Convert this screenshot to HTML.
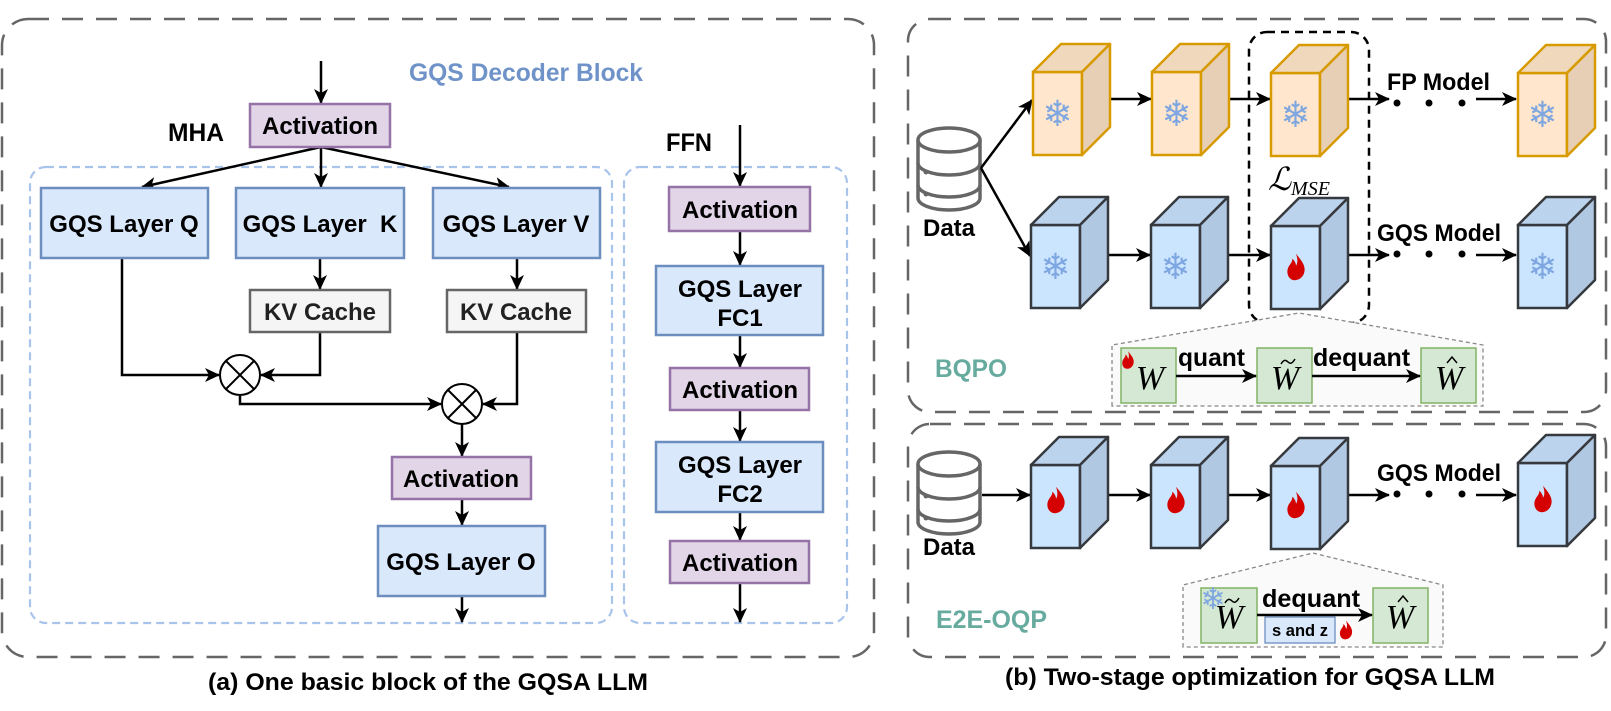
<!DOCTYPE html>
<html><head><meta charset="utf-8"><style>
html,body{margin:0;padding:0;background:#fff;}
svg{display:block;}
text{font-family:"Liberation Sans",Arial,sans-serif;font-weight:bold;}
.s{font-family:"Liberation Serif","DejaVu Serif",serif;font-style:italic;font-weight:normal;}
</style></head><body>
<svg width="1611" height="711" viewBox="0 0 1611 711" xmlns="http://www.w3.org/2000/svg">
<defs>
<marker id="a" markerWidth="16" markerHeight="14" refX="14" refY="7" orient="auto" markerUnits="userSpaceOnUse">
<path d="M0,0 L15,7 L0,14 L4,7 Z" fill="#000"/></marker>
<g id="fl"><path d="M0,-11 C5,-5 8,-1 7,4 C6,9 2,11 -1,11 C-5,11 -8,7 -7,2 C-6,-2 -3,-3 -3,-7 C-1,-5 0,-3 0,-1 C2,-4 1,-8 0,-11 Z" fill="#d50000"/></g>
<g id="sf"><text x="24.5" y="54" text-anchor="middle" font-size="36" fill="#7ea6e0" style="font-family:'DejaVu Sans',sans-serif;font-weight:normal">❄</text></g>
<g id="oc">
<rect x="0" y="0" width="49" height="83" fill="#ffe6cc" stroke="#d79b00" stroke-width="2.5"/>
<polygon points="0,0 28,-28 77,-28 49,0" fill="#f0d8bd" stroke="#d79b00" stroke-width="2.5" stroke-linejoin="round"/>
<polygon points="49,0 77,-28 77,55 49,83" fill="#e6cfb5" stroke="#d79b00" stroke-width="2.5" stroke-linejoin="round"/>
<use href="#sf"/>
</g>
<g id="bc">
<rect x="0" y="0" width="49" height="83" fill="#cce5ff" stroke="#36393d" stroke-width="2.5"/>
<polygon points="0,0 28,-28 77,-28 49,0" fill="#bcd3ed" stroke="#36393d" stroke-width="2.5" stroke-linejoin="round"/>
<polygon points="49,0 77,-28 77,55 49,83" fill="#b1c8e3" stroke="#36393d" stroke-width="2.5" stroke-linejoin="round"/>
</g>
<g id="db" fill="#fff" stroke="#666" stroke-width="3.5">
<path d="M0,12 L0,70 A31,12 0 0 0 62,70 L62,12"/>
<path d="M0,35 A31,12 0 0 0 62,35 M0,57 A31,12 0 0 0 62,57" fill="none"/>
<ellipse cx="31" cy="12" rx="31" ry="12"/>
<circle cx="8" cy="44" r="2.5" fill="#666" stroke="none"/><circle cx="8" cy="66" r="2.5" fill="#666" stroke="none"/>
</g>
<path id="tl" d="M-7,3 C-4,-2 -2,-1 0,1 C2,3 4,3 7,-2" fill="none" stroke="#000" stroke-width="1.5"/>
<path id="ht" d="M-5,3 L0,-3 L5,3" fill="none" stroke="#000" stroke-width="1.5"/>
</defs>

<g fill="none" stroke="#666" stroke-width="2.5" stroke-dasharray="21 13">
<rect x="2" y="19" width="872" height="638" rx="26"/>
<rect x="908" y="19" width="698" height="393" rx="22"/>
<rect x="908" y="424" width="698" height="233" rx="22"/>
</g>
<g fill="none" stroke="#a9c4eb" stroke-width="2.2" stroke-dasharray="8 5">
<rect x="30" y="167" width="582" height="456" rx="16"/>
<rect x="624" y="167" width="223" height="456" rx="16"/>
</g>

<text x="409" y="81" font-size="25" fill="#6f93c8" textLength="234" lengthAdjust="spacingAndGlyphs">GQS Decoder Block</text>
<text x="168" y="141" font-size="25" textLength="56" lengthAdjust="spacingAndGlyphs">MHA</text>
<text x="666" y="151" font-size="25" textLength="46" lengthAdjust="spacingAndGlyphs">FFN</text>

<g stroke="#000" stroke-width="2.5" fill="none" marker-end="url(#a)">
<line x1="321" y1="61" x2="321" y2="103"/>
<line x1="321" y1="147" x2="142" y2="187"/>
<line x1="321" y1="147" x2="321" y2="187"/>
<line x1="321" y1="147" x2="509" y2="187"/>
<line x1="320" y1="258" x2="320" y2="289"/>
<line x1="517" y1="258" x2="517" y2="289"/>
<polyline points="122,258 122,375 219,375"/>
<polyline points="320,332 320,375 261,375"/>
<polyline points="240,396 240,404 441,404"/>
<polyline points="517,332 517,404 483,404"/>
<line x1="462" y1="424" x2="462" y2="456"/>
<line x1="462" y1="499" x2="462" y2="525"/>
<line x1="462" y1="596" x2="462" y2="622"/>
<line x1="740" y1="125" x2="740" y2="186"/>
<line x1="740" y1="231" x2="740" y2="265"/>
<line x1="740" y1="335" x2="740" y2="367"/>
<line x1="740" y1="410" x2="740" y2="441"/>
<line x1="740" y1="512" x2="740" y2="540"/>
<line x1="740" y1="583" x2="740" y2="622"/>
</g>
<g fill="#fff" stroke="#000" stroke-width="2">
<circle cx="240" cy="375" r="20"/><circle cx="462" cy="404" r="20"/>
</g>
<g stroke="#000" stroke-width="2">
<path d="M226,361 L254,389 M254,361 L226,389"/>
<path d="M448,390 L476,418 M476,390 L448,418"/>
</g>

<g stroke-width="2.5">
<rect x="250" y="104" width="140" height="43" fill="#e1d5e7" stroke="#9673a6"/>
<rect x="41" y="188" width="167" height="70" fill="#dae8fc" stroke="#6c8ebf"/>
<rect x="236" y="188" width="168" height="70" fill="#dae8fc" stroke="#6c8ebf"/>
<rect x="433" y="188" width="167" height="70" fill="#dae8fc" stroke="#6c8ebf"/>
<rect x="250" y="290" width="140" height="42" fill="#f5f5f5" stroke="#666"/>
<rect x="447" y="290" width="139" height="42" fill="#f5f5f5" stroke="#666"/>
<rect x="392" y="457" width="139" height="42" fill="#e1d5e7" stroke="#9673a6"/>
<rect x="378" y="526" width="167" height="70" fill="#dae8fc" stroke="#6c8ebf"/>
<rect x="669" y="187" width="141" height="44" fill="#e1d5e7" stroke="#9673a6"/>
<rect x="656" y="266" width="167" height="69" fill="#dae8fc" stroke="#6c8ebf"/>
<rect x="670" y="368" width="139" height="42" fill="#e1d5e7" stroke="#9673a6"/>
<rect x="656" y="442" width="167" height="70" fill="#dae8fc" stroke="#6c8ebf"/>
<rect x="670" y="541" width="139" height="42" fill="#e1d5e7" stroke="#9673a6"/>
</g>
<g font-size="24" text-anchor="middle">
<text x="320" y="134">Activation</text>
<text x="124" y="232">GQS Layer Q</text>
<text x="320" y="232" xml:space="preserve">GQS Layer  K</text>
<text x="516" y="232">GQS Layer V</text>
<text x="320" y="320" fill="#222">KV Cache</text>
<text x="516" y="320" fill="#222">KV Cache</text>
<text x="461" y="487">Activation</text>
<text x="461" y="570">GQS Layer O</text>
<text x="740" y="218">Activation</text>
<text x="740" y="297">GQS Layer</text>
<text x="740" y="326">FC1</text>
<text x="740" y="398">Activation</text>
<text x="740" y="473">GQS Layer</text>
<text x="740" y="502">FC2</text>
<text x="740" y="571">Activation</text>
</g>
<text x="208" y="690" font-size="24" textLength="440" lengthAdjust="spacingAndGlyphs">(a) One basic block of the GQSA LLM</text>

<use href="#db" x="918" y="128"/>
<text x="949" y="236" font-size="24" text-anchor="middle">Data</text>
<g stroke="#000" stroke-width="2.5" fill="none" marker-end="url(#a)">
<line x1="981" y1="168" x2="1032" y2="100"/>
<line x1="981" y1="168" x2="1030" y2="256"/>
<line x1="1110" y1="99" x2="1151" y2="99"/>
<line x1="1229" y1="99" x2="1270" y2="99"/>
<line x1="1348" y1="99" x2="1389" y2="99"/>
<line x1="1476" y1="99" x2="1516" y2="99"/>
<line x1="1108" y1="255" x2="1150" y2="255"/>
<line x1="1228" y1="255" x2="1270" y2="255"/>
<line x1="1348" y1="255" x2="1389" y2="255"/>
<line x1="1476" y1="255" x2="1516" y2="255"/>
<line x1="982" y1="495" x2="1030" y2="495"/>
<line x1="1108" y1="495" x2="1150" y2="495"/>
<line x1="1228" y1="495" x2="1270" y2="495"/>
<line x1="1348" y1="495" x2="1389" y2="495"/>
<line x1="1476" y1="495" x2="1516" y2="495"/>
</g>
<g fill="#000">
<circle cx="1397" cy="103" r="3.5"/><circle cx="1429" cy="103" r="3.5"/><circle cx="1462" cy="103" r="3.5"/>
<circle cx="1397" cy="254" r="3.5"/><circle cx="1429" cy="254" r="3.5"/><circle cx="1462" cy="254" r="3.5"/>
<circle cx="1397" cy="494" r="3.5"/><circle cx="1429" cy="494" r="3.5"/><circle cx="1462" cy="494" r="3.5"/>
</g>
<use href="#oc" x="1033" y="72"/>
<use href="#oc" x="1152" y="72"/>
<use href="#oc" x="1271" y="73"/>
<use href="#oc" x="1518" y="73"/>
<use href="#bc" x="1031" y="225"/><use href="#sf" x="1031" y="225"/>
<use href="#bc" x="1151" y="225"/><use href="#sf" x="1151" y="225"/>
<use href="#bc" x="1271" y="226"/><use href="#fl" transform="translate(1296,267) scale(1.2)"/>
<use href="#bc" x="1518" y="225"/><use href="#sf" x="1518" y="225"/>
<text x="1387" y="90" font-size="24" textLength="103" lengthAdjust="spacingAndGlyphs">FP Model</text>
<text x="1377" y="241" font-size="24" textLength="124" lengthAdjust="spacingAndGlyphs">GQS Model</text>
<rect x="1249" y="32" width="120" height="291" rx="18" fill="none" stroke="#000" stroke-width="2.5" stroke-dasharray="8 6"/>
<text x="1268" y="190" class="s" font-size="32">ℒ<tspan font-size="20" dy="5">MSE</tspan></text>
<path d="M1112,406 L1112,345 L1299,313 L1483,345 L1483,406 Z" fill="#fafafa" stroke="#888" stroke-width="1.3" stroke-dasharray="4 3"/>
<g fill="#d5e8d4" stroke="#82b366" stroke-width="1.5">
<rect x="1121" y="348" width="55" height="55"/><rect x="1257" y="348" width="55" height="55"/><rect x="1421" y="348" width="55" height="55"/>
</g>
<g stroke="#000" stroke-width="2.5" marker-end="url(#a)">
<line x1="1176" y1="376" x2="1256" y2="376"/><line x1="1312" y1="376" x2="1420" y2="376"/>
</g>
<text x="1178" y="366" font-size="25" textLength="67" lengthAdjust="spacingAndGlyphs">quant</text>
<text x="1313" y="366" font-size="25" textLength="97" lengthAdjust="spacingAndGlyphs">dequant</text>
<g class="s" font-size="34" text-anchor="middle">
<text x="1150" y="389" class="s">W</text>
<text x="1285" y="389" class="s">W</text>
<text x="1449" y="389" class="s">W</text>
</g>
<use href="#tl" x="1288" y="361"/>
<use href="#ht" x="1452" y="360"/>
<use href="#fl" transform="translate(1128,360) scale(0.8)"/>
<text x="935" y="377" font-size="25" fill="#67ab9f" textLength="72" lengthAdjust="spacingAndGlyphs">BQPO</text>

<use href="#db" x="918" y="452"/>
<text x="949" y="555" font-size="24" text-anchor="middle">Data</text>
<use href="#bc" x="1031" y="465"/><use href="#fl" transform="translate(1056,500) scale(1.2)"/>
<use href="#bc" x="1151" y="465"/><use href="#fl" transform="translate(1176,500) scale(1.2)"/>
<use href="#bc" x="1271" y="466"/><use href="#fl" transform="translate(1296,505) scale(1.2)"/>
<use href="#bc" x="1518" y="463"/><use href="#fl" transform="translate(1543,499) scale(1.2)"/>
<text x="1377" y="481" font-size="24" textLength="124" lengthAdjust="spacingAndGlyphs">GQS Model</text>
<path d="M1183,647 L1183,585 L1313,553 L1443,585 L1443,647 Z" fill="#fafafa" stroke="#888" stroke-width="1.3" stroke-dasharray="4 3"/>
<g fill="#d5e8d4" stroke="#82b366" stroke-width="1.5">
<rect x="1201" y="588" width="56" height="55"/><rect x="1373" y="588" width="55" height="55"/>
</g>
<rect x="1265" y="617" width="70" height="26" fill="#dae8fc" stroke="#6c8ebf" stroke-width="1.3"/>
<text x="1300" y="636" font-size="17" text-anchor="middle" textLength="56" lengthAdjust="spacingAndGlyphs">s and z</text>
<line x1="1257" y1="615" x2="1372" y2="615" stroke="#000" stroke-width="2.5" marker-end="url(#a)"/>
<text x="1262" y="607" font-size="25" textLength="98" lengthAdjust="spacingAndGlyphs">dequant</text>
<text x="1229" y="628" class="s" font-size="34" text-anchor="middle">W</text><use href="#tl" x="1232" y="600"/>
<text x="1400" y="628" class="s" font-size="34" text-anchor="middle">W</text><use href="#ht" x="1403" y="599"/>
<text x="1213" y="609" font-size="30" text-anchor="middle" fill="#7ea6e0" style="font-family:'DejaVu Sans',sans-serif;font-weight:normal">❄</text>
<use href="#fl" transform="translate(1346,630) scale(0.85)"/>
<text x="936" y="628" font-size="25" fill="#67ab9f" textLength="111" lengthAdjust="spacingAndGlyphs">E2E-OQP</text>
<text x="1005" y="685" font-size="24" textLength="490" lengthAdjust="spacingAndGlyphs">(b) Two-stage optimization for GQSA LLM</text>
</svg>
</body></html>
